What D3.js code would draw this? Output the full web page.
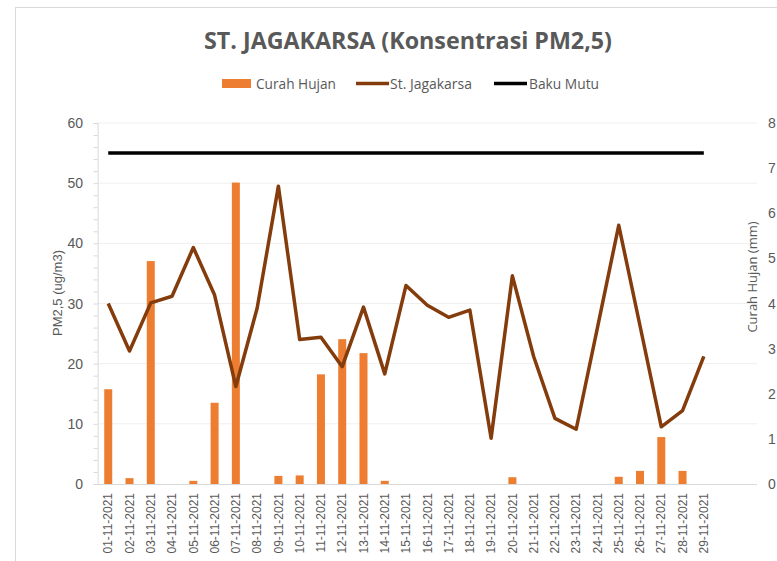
<!DOCTYPE html>
<html>
<head>
<meta charset="utf-8">
<script src="https://cdn.jsdelivr.net/npm/d3@7"></script>
<style>
  body { margin: 0; background: #fff; }
  svg { display: block; font-family: "Liberation Sans", Arial, sans-serif; }
</style>
</head>
<body>
<svg id="chart" width="777" height="561"></svg>
<script>
// data
const dates = ["01-11-2021","02-11-2021","03-11-2021","04-11-2021","05-11-2021","06-11-2021",
  "07-11-2021","08-11-2021","09-11-2021","10-11-2021","11-11-2021","12-11-2021","13-11-2021",
  "14-11-2021","15-11-2021","16-11-2021","17-11-2021","18-11-2021","19-11-2021","20-11-2021",
  "21-11-2021","22-11-2021","23-11-2021","24-11-2021","25-11-2021","26-11-2021","27-11-2021",
  "28-11-2021","29-11-2021"]
const pm25 = [30.0, 22.1, 30.1, 31.2, 39.3, 31.4, 16.2, 29.2, 49.5, 24.0, 24.4, 19.5, 29.4,
  18.3, 33.0, 29.7, 27.7, 28.9, 7.6, 34.6, 21.2, 10.9, 9.1, 26.0, 43.0, 26.3, 9.5, 12.2, 21.2]
const curahHujan = [2.10, 0.13, 4.94, 0, 0.07, 1.80, 6.68, 0, 0.18, 0.19, 2.43, 3.21, 2.90,
  0.07, 0, 0, 0, 0, 0, 0.15, 0, 0, 0, 0, 0.16, 0.29, 1.04, 0.29, 0]
const bakuMutu = 55
const leftTicks = [0, 10, 20, 30, 40, 50, 60]
const rightTicks = [0, 1, 2, 3, 4, 5, 6, 7, 8]

const svg = d3.select("#chart")
const textColor = "#595959"

const LEFT = 97.6, RIGHT = 757, TOP = 123, BOTTOM = 484
const nSlots = 31
const step = (RIGHT - LEFT) / nSlots

const x = d3.scaleBand()
  .domain(dates)
  .range([LEFT, LEFT + step * dates.length])
const cx = d => x(d) + x.bandwidth() / 2

const yLeft = d3.scaleLinear().domain([0, 60]).range([BOTTOM, TOP])
const yRight = d3.scaleLinear().domain([0, 8]).range([BOTTOM, TOP])

// chart border
svg.append("rect")
  .attr("x", 15.5).attr("y", 7.5)
  .attr("width", 800).attr("height", 600)
  .attr("fill", "none")
  .attr("stroke", "#d9d9d9")

// title
svg.append("text")
  .attr("x", 408).attr("y", 49)
  .attr("text-anchor", "middle")
  .style("font-family", "'Open Sans', sans-serif")
  .style("font-size", "23px")
  .style("font-weight", "bold")
  .attr("fill", textColor)
  .attr("textLength", 408)
  .attr("lengthAdjust", "spacingAndGlyphs")
  .text("ST. JAGAKARSA (Konsentrasi PM2,5)")

// gridlines
svg.append("g")
  .selectAll("line")
  .data(leftTicks.slice(1))
  .join("line")
  .attr("x1", LEFT).attr("x2", RIGHT)
  .attr("y1", d => yLeft(d)).attr("y2", d => yLeft(d))
  .attr("stroke", "#efefef")

// left axis
const leftAxis = svg.append("g")
  .attr("transform", `translate(${LEFT},0)`)
  .call(d3.axisLeft(yLeft).tickValues(d3.range(0, 61, 2)).tickSize(4).tickFormat(""))
leftAxis.select(".domain").attr("stroke", "#d9d9d9")
leftAxis.selectAll(".tick line").attr("stroke", "#d9d9d9")

svg.append("g")
  .selectAll("text")
  .data(leftTicks)
  .join("text")
  .attr("x", 83)
  .attr("y", d => yLeft(d) + 5)
  .attr("text-anchor", "end")
  .style("font-size", "14px")
  .attr("fill", textColor)
  .text(d => d)

// right axis labels
svg.append("g")
  .selectAll("text")
  .data(rightTicks)
  .join("text")
  .attr("x", 768)
  .attr("y", d => yRight(d) + 5)
  .style("font-size", "14px")
  .attr("fill", textColor)
  .text(d => d)

// axis titles
svg.append("text")
  .attr("transform", `translate(62,293) rotate(-90)`)
  .attr("text-anchor", "middle")
  .style("font-size", "13px")
  .attr("fill", textColor)
  .text("PM2,5 (ug/m3)")

svg.append("text")
  .attr("transform", `translate(757,277) rotate(-90)`)
  .attr("text-anchor", "middle")
  .style("font-family", "'Open Sans', sans-serif")
  .style("font-size", "13px")
  .attr("fill", textColor)
  .text("Curah Hujan (mm)")

// bars
const barW = 8
svg.append("g")
  .selectAll("rect")
  .data(dates.map((d, i) => ({ date: d, v: curahHujan[i] })))
  .join("rect")
  .attr("x", d => cx(d.date) - barW / 2)
  .attr("y", d => yRight(d.v))
  .attr("width", barW)
  .attr("height", d => BOTTOM - yRight(d.v))
  .attr("fill", "#ED7D31")

// x axis
const xAxis = svg.append("g")
  .attr("transform", `translate(0,${BOTTOM})`)
  .call(d3.axisBottom(x).tickSize(0))
xAxis.select(".domain").attr("d", `M${LEFT},0.5H${RIGHT}`).attr("stroke", "#d9d9d9")
xAxis.selectAll(".tick text")
  .attr("transform", "rotate(-90)")
  .attr("text-anchor", "end")
  .attr("x", -9)
  .attr("y", 0)
  .attr("dy", "0.35em")
  .style("font-size", "12px")
  .style("font-family", "'Liberation Sans', Arial, sans-serif")
  .attr("fill", textColor)

// baku mutu line
const line = d3.line()
  .x(d => cx(d[0]))
  .y(d => yLeft(d[1]))

svg.append("path")
  .datum(dates.map(d => [d, bakuMutu]))
  .attr("fill", "none")
  .attr("stroke", "#000")
  .attr("stroke-width", 3.5)
  .attr("d", line)

// pm2.5 line
svg.append("path")
  .datum(dates.map((d, i) => [d, pm25[i]]))
  .attr("fill", "none")
  .attr("stroke", "#843C0C")
  .attr("stroke-width", 3.5)
  .attr("stroke-linejoin", "round")
  .attr("d", line)

// legend
const legend = svg.append("g")
  .style("font-family", "'Open Sans', sans-serif")
  .style("font-size", "14.5px")
  .attr("fill", textColor)

legend.append("rect")
  .attr("x", 222).attr("y", 79)
  .attr("width", 29).attr("height", 9)
  .attr("fill", "#ED7D31")
legend.append("text").attr("x", 256).attr("y", 88.5)
  .attr("textLength", 80).attr("lengthAdjust", "spacingAndGlyphs")
  .text("Curah Hujan")

legend.append("line")
  .attr("x1", 356).attr("x2", 389).attr("y1", 83.5).attr("y2", 83.5)
  .attr("stroke", "#843C0C").attr("stroke-width", 3.5)
legend.append("text").attr("x", 390).attr("y", 88.5)
  .attr("textLength", 82).attr("lengthAdjust", "spacingAndGlyphs")
  .text("St. Jagakarsa")

legend.append("line")
  .attr("x1", 494).attr("x2", 527).attr("y1", 83.5).attr("y2", 83.5)
  .attr("stroke", "#000").attr("stroke-width", 3.5)
legend.append("text").attr("x", 529).attr("y", 88.5)
  .attr("textLength", 70).attr("lengthAdjust", "spacingAndGlyphs")
  .text("Baku Mutu")
</script>
</body>
</html>
